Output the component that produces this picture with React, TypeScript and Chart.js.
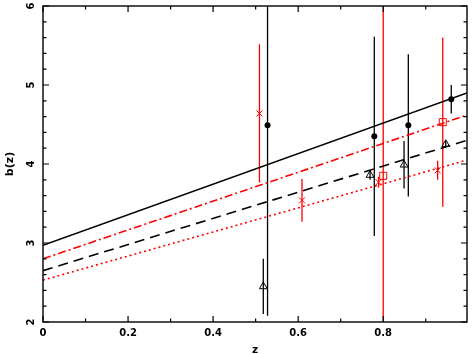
import { useEffect, useRef } from 'react';
import { Chart, registerables } from 'chart.js';
Chart.register(...registerables);

const X_MIN = 0;
const X_MAX = 0.997;
const Y_MIN = 2;
const Y_MAX = 6;

// filled black circles
const circleZ = [0.528, 0.779, 0.859, 0.96];
const circleB = [4.49, 4.35, 4.49, 4.82];
const circleErr = [2.41, 1.26, 0.9, 0.18];
// open black triangles
const triZ = [0.518, 0.769, 0.849, 0.947];
const triB = [2.45, 3.86, 3.99, 4.25];
const triErr = [0.35, 0.06, 0.3, 0.04];
// red crosses
const crossZ = [0.509, 0.609, 0.789, 0.928];
const crossB = [4.64, 3.54, 3.77, 3.92];
const crossErr = [0.875, 0.27, 0.07, 0.12];
// open red squares
const squareZ = [0.8, 0.94];
const squareB = [3.85, 4.53];
const squareErr = [4.0, 1.07];

// fit lines (endpoints)
const fitZ = [0, 0.997];
const fitSolid = [2.97, 4.9];
const fitDashDot = [2.8, 4.62];
const fitDashed = [2.65, 4.3];
const fitDotted = [2.53, 4.05];

const xMajorTicks = [0, 0.2, 0.4, 0.6, 0.8];
const xMinorTicks = [0.1, 0.3, 0.5, 0.7, 0.9];
const yMajorTicks = [2, 3, 4, 5, 6];
const yTickLabels = ['2', '3', '4', '5', '6'];
const yMinorTicks = [2.2, 2.4, 2.6, 2.8, 3.2, 3.4, 3.6, 3.8, 4.2, 4.4, 4.6, 4.8, 5.2, 5.4, 5.6, 5.8];

const RED = '#ff0000';
const BLACK = '#000000';
const FONT = '"DejaVu Sans", sans-serif';

const pts = (xs: number[], ys: number[]) => xs.map((x, i) => ({ x, y: ys[i] }));

const errorBars = {
  id: 'errorBars',
  beforeDatasetsDraw(chart: any) {
    const { ctx, chartArea, scales } = chart;
    const { x, y } = scales;
    ctx.save();
    ctx.beginPath();
    ctx.rect(chartArea.left, chartArea.top, chartArea.right - chartArea.left, chartArea.bottom - chartArea.top);
    ctx.clip();
    chart.data.datasets.forEach((ds: any) => {
      if (!ds.errors) return;
      ctx.strokeStyle = ds.errColor;
      ctx.lineWidth = 1.3;
      ds.data.forEach((p: any, i: number) => {
        const px = x.getPixelForValue(p.x);
        const y1 = y.getPixelForValue(p.y + ds.errors[i]);
        const y2 = y.getPixelForValue(p.y - ds.errors[i]);
        ctx.beginPath();
        ctx.moveTo(px, y1);
        ctx.lineTo(px, y2);
        ctx.stroke();
      });
    });
    ctx.restore();
  },
};

const frame = {
  id: 'frame',
  afterDraw(chart: any) {
    const { ctx, chartArea, scales } = chart;
    const { left, right, top, bottom } = chartArea;
    const { x, y } = scales;
    ctx.save();
    ctx.strokeStyle = BLACK;
    ctx.lineWidth = 1.4;
    ctx.strokeRect(left, top, right - left, bottom - top);
    ctx.lineWidth = 1.2;
    const xt = (v: number, len: number) => {
      const px = x.getPixelForValue(v);
      if (px < left || px > right) return;
      ctx.beginPath();
      ctx.moveTo(px, bottom); ctx.lineTo(px, bottom - len);
      ctx.moveTo(px, top); ctx.lineTo(px, top + len);
      ctx.stroke();
    };
    const yt = (v: number, len: number) => {
      const py = y.getPixelForValue(v);
      ctx.beginPath();
      ctx.moveTo(left, py); ctx.lineTo(left + len, py);
      ctx.moveTo(right, py); ctx.lineTo(right - len, py);
      ctx.stroke();
    };
    xMajorTicks.forEach((v) => xt(v, 6));
    xMinorTicks.forEach((v) => xt(v, 3.5));
    yMajorTicks.forEach((v) => yt(v, 6));
    yMinorTicks.forEach((v) => yt(v, 3.5));
    // rotated y tick labels
    ctx.fillStyle = BLACK;
    ctx.font = `bold 10px ${FONT}`;
    ctx.textAlign = 'center';
    ctx.textBaseline = 'alphabetic';
    yMajorTicks.forEach((v, i) => {
      const py = y.getPixelForValue(v);
      ctx.save();
      ctx.translate(left - 12.5, py);
      ctx.rotate(-Math.PI / 2);
      ctx.fillText(yTickLabels[i], 0, 3.65);
      ctx.restore();
    });
    ctx.restore();
  },
};

export default function App() {
  const ref = useRef<HTMLCanvasElement>(null);
  useEffect(() => {
    const chart = new Chart(ref.current as HTMLCanvasElement, {
      type: 'scatter',
      data: {
        datasets: [
          { data: pts(fitZ, fitSolid), showLine: true, borderColor: BLACK, borderWidth: 1.6, pointRadius: 0, order: 10 },
          { data: pts(fitZ, fitDashDot), showLine: true, borderColor: RED, borderWidth: 1.6, borderDash: [8, 3, 2, 3], pointRadius: 0, order: 10 },
          { data: pts(fitZ, fitDashed), showLine: true, borderColor: BLACK, borderWidth: 1.6, borderDash: [10, 6], pointRadius: 0, order: 10 },
          { data: pts(fitZ, fitDotted), showLine: true, borderColor: RED, borderWidth: 1.6, borderDash: [2, 3], pointRadius: 0, order: 10 },
          { data: pts(circleZ, circleB), errors: circleErr, errColor: BLACK, pointStyle: 'circle', pointRadius: 3, backgroundColor: BLACK, borderColor: BLACK, borderWidth: 0, order: 1 } as any,
          { data: pts(triZ, triB), errors: triErr, errColor: BLACK, pointStyle: 'triangle', pointRadius: 4.5, backgroundColor: 'rgba(0,0,0,0)', borderColor: BLACK, borderWidth: 1, order: 1 } as any,
          { data: pts(crossZ, crossB), errors: crossErr, errColor: RED, pointStyle: 'crossRot', pointRadius: 4.2, backgroundColor: RED, borderColor: RED, borderWidth: 1, order: 1 } as any,
          { data: pts(squareZ, squareB), errors: squareErr, errColor: RED, pointStyle: 'rect', pointRadius: 5, backgroundColor: 'rgba(0,0,0,0)', borderColor: RED, borderWidth: 1, order: 1 } as any,
        ],
      },
      options: {
        responsive: false,
        animation: false,
        events: [],
        layout: { padding: { top: 5, right: 3, left: 0, bottom: 0 } },
        plugins: { legend: { display: false }, tooltip: { enabled: false } },
        scales: {
          x: {
            type: 'linear',
            min: X_MIN,
            max: X_MAX,
            afterFit: (s: any) => { s.height = 32; },
            grid: { display: false, drawTicks: false },
            border: { display: false },
            ticks: {
              stepSize: 0.2,
              autoSkip: false,
              maxRotation: 0,
              padding: 5,
              color: BLACK,
              font: { family: FONT, size: 10, weight: 'bold' },
              callback: (v: any) => {
                const r = v / 0.2;
                if (Math.abs(r - Math.round(r)) > 1e-6) return null;
                return v === 0 ? '0' : Number(v).toFixed(1);
              },
            },
            title: { display: true, text: 'z', color: BLACK, font: { family: FONT, size: 10.5, weight: 'bold' }, padding: { top: 0, bottom: -3 } },
          },
          y: {
            type: 'linear',
            min: Y_MIN,
            max: Y_MAX,
            afterFit: (s: any) => { s.width = 43; },
            grid: { display: false, drawTicks: false },
            border: { display: false },
            ticks: { display: false, stepSize: 1 },
            title: { display: true, text: 'b(z)', color: BLACK, font: { family: FONT, size: 11, weight: 'bold' }, padding: { top: 4, bottom: 0 } },
          },
        },
      } as any,
      plugins: [errorBars, frame],
    });
    return () => chart.destroy();
  }, []);
  return (
    <div style={{ position: 'absolute', left: 0, top: 0, width: 473, height: 354, background: '#fff' }}>
      <canvas ref={ref} width={473} height={354} style={{ width: 473, height: 354, display: 'block' }} />
    </div>
  );
}
